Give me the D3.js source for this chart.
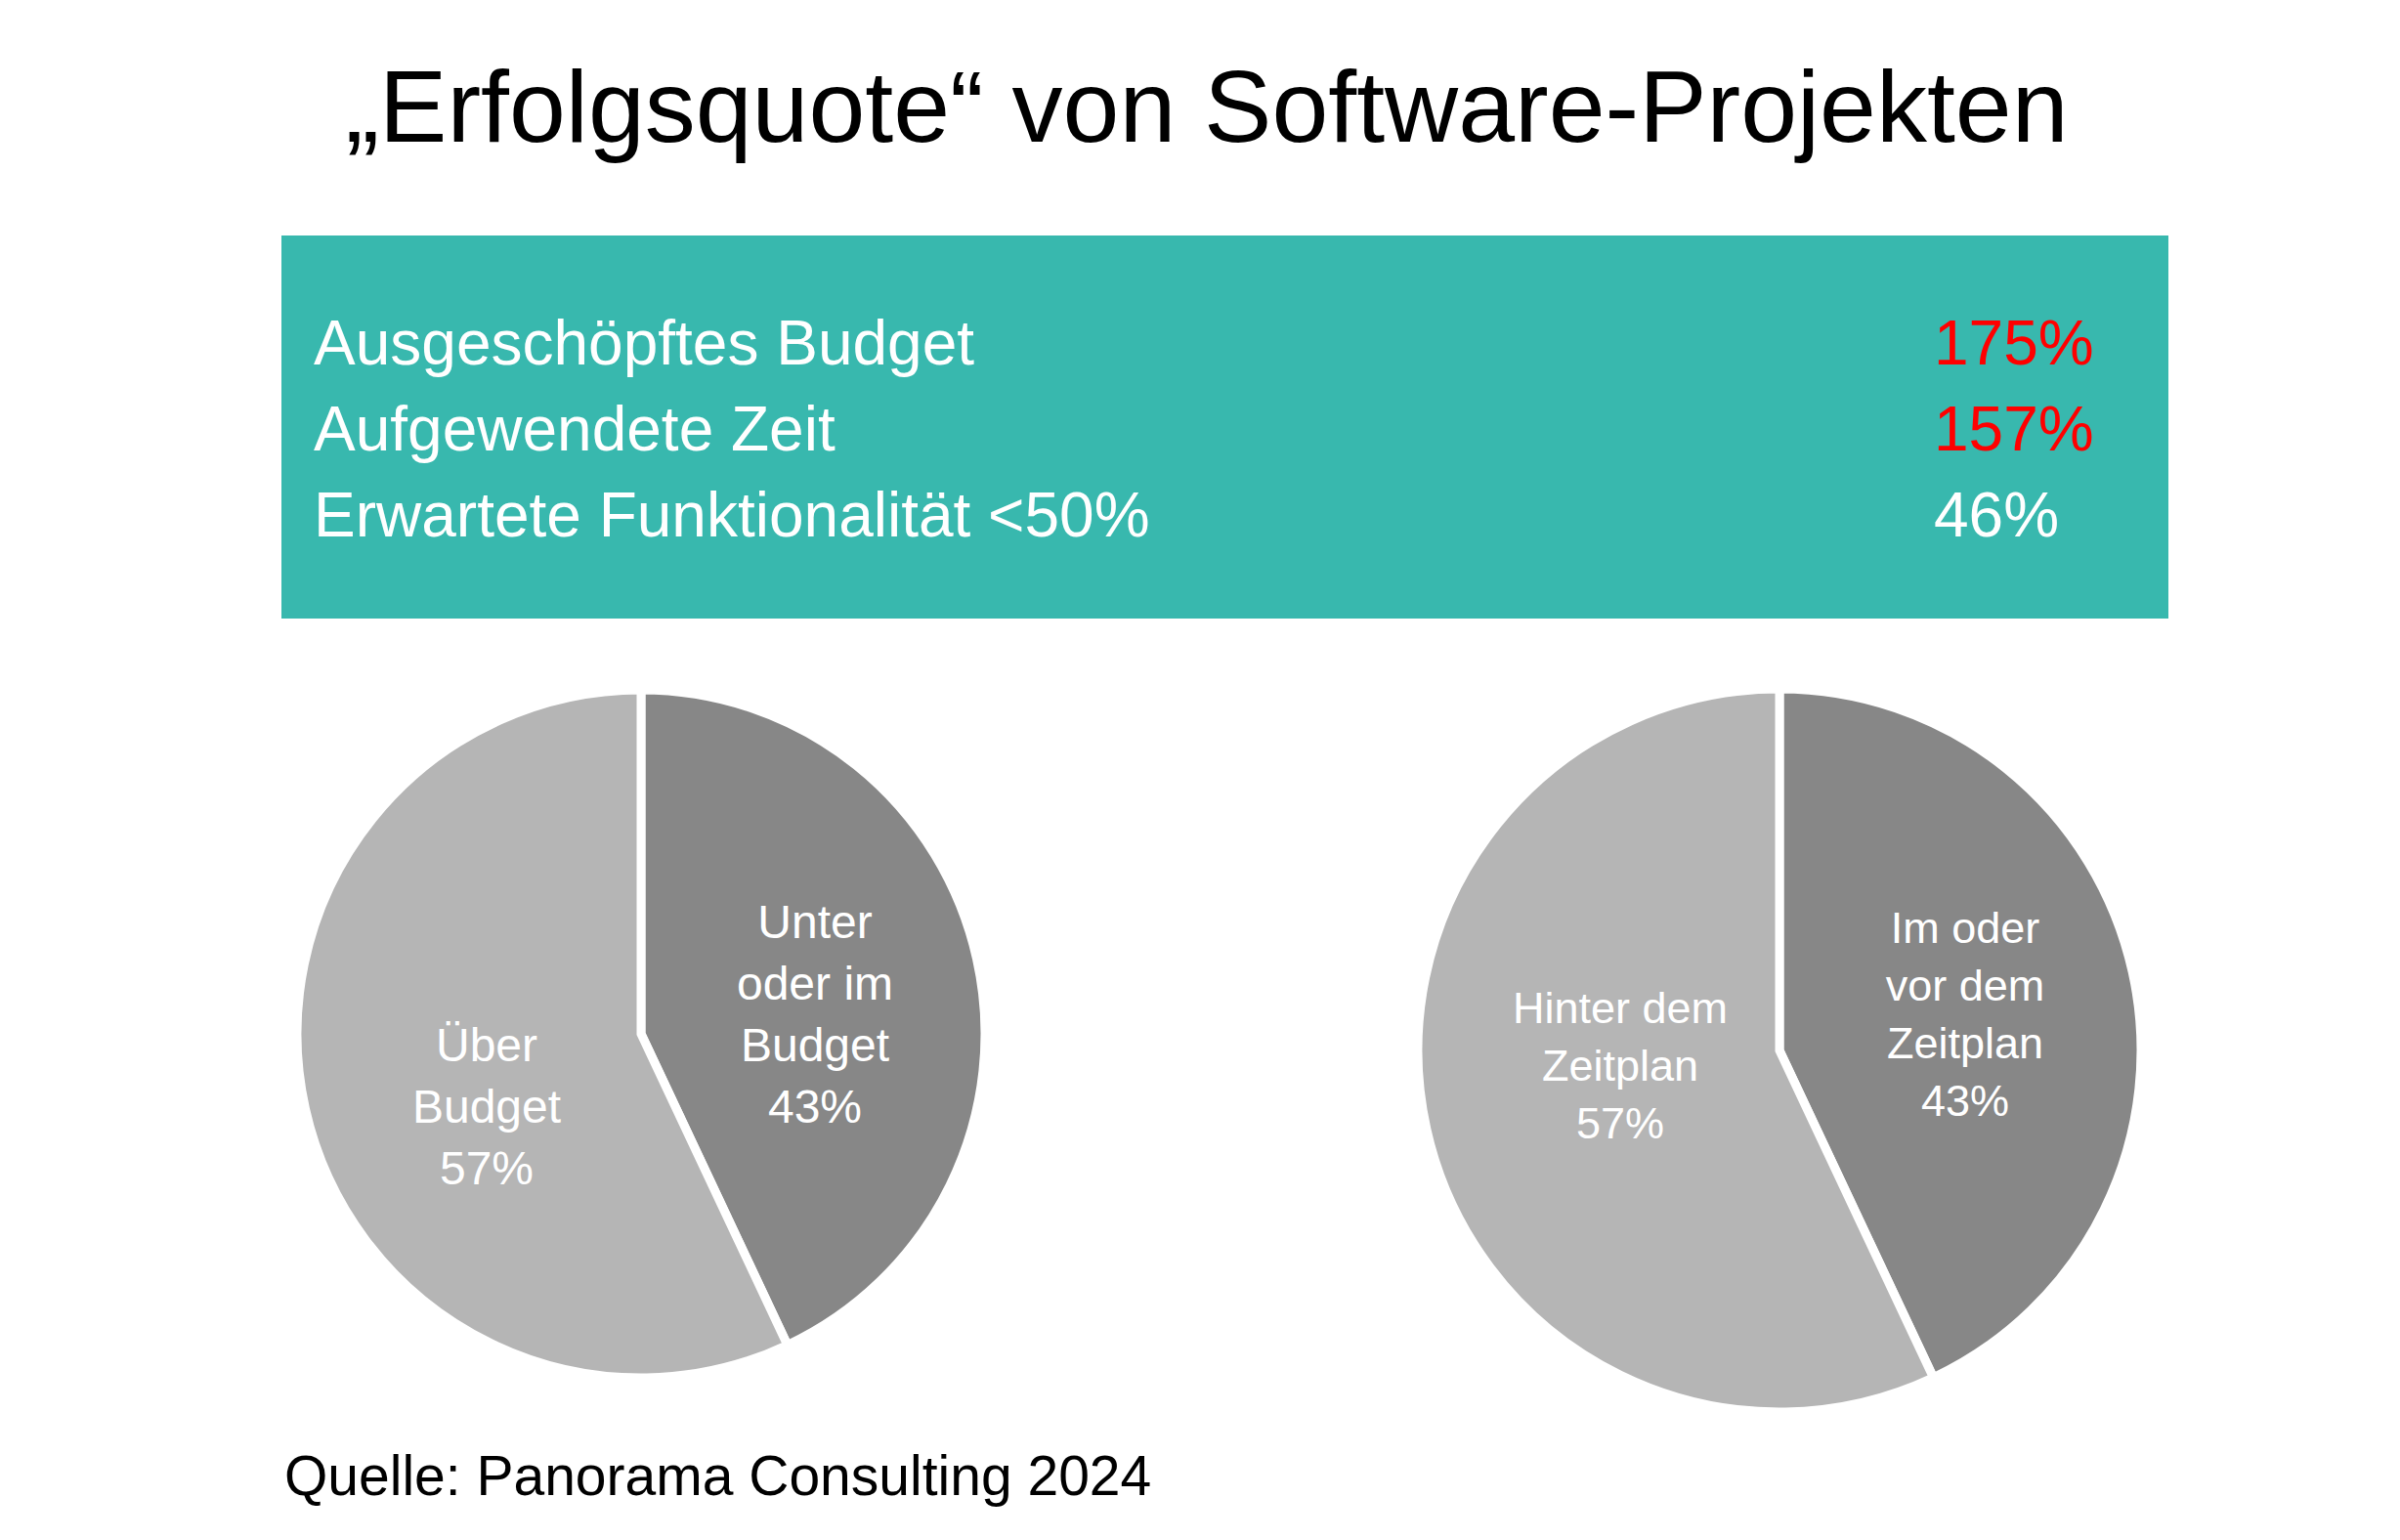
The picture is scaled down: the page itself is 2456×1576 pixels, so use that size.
<!DOCTYPE html>
<html><head><meta charset="utf-8">
<script src="https://cdn.jsdelivr.net/npm/d3@7"></script>
<style>body{margin:0;background:#fff}</style></head>
<body><svg id="c" width="2456" height="1576"></svg>
<script>
const title = "„Erfolgsquote“ von Software-Projekten";
const boxLabels = ["Ausgeschöpftes Budget","Aufgewendete Zeit","Erwartete Funktionalität <50%"];
const boxValues = ["175%","157%","46%"];
const boxColors = ["#ff0000","#ff0000","#ffffff"];
const pie1Values = [43,57];
const pie1Labels = [["Unter","oder im","Budget","43%"],["Über","Budget","57%"]];
const pie2Values = [43,57];
const pie2Labels = [["Im oder","vor dem","Zeitplan","43%"],["Hinter dem","Zeitplan","57%"]];
const sliceColors = ["#878787","#b5b5b5"];
const source = "Quelle: Panorama Consulting 2024";

const svg = d3.select("#c"), F="Liberation Sans, Arial, sans-serif";
svg.append("text").attr("x",1235).attr("y",145).attr("text-anchor","middle")
  .attr("font-family",F).attr("font-size",104).text(title);
svg.append("rect").attr("x",288).attr("y",241).attr("width",1931).attr("height",392).attr("fill","#38b8ae");
const y = d3.scalePoint().domain(d3.range(3)).range([373,549]);
boxLabels.forEach((t,i)=>{
  svg.append("text").attr("x",321).attr("y",y(i)).attr("font-family",F).attr("font-size",64).attr("fill","#fff").text(t);
  svg.append("text").attr("x",1979).attr("y",y(i)).attr("font-family",F).attr("font-size",64).attr("fill",boxColors[i]).text(boxValues[i]);
});
function pie(cx,cy,r,vals,labels,fs,lh,pos){
  const g = svg.append("g").attr("transform",`translate(${cx},${cy})`);
  const arcs = d3.pie().sort(null)(vals);
  g.selectAll("path").data(arcs).join("path").attr("d",d3.arc().innerRadius(0).outerRadius(r))
    .attr("fill",(d,i)=>sliceColors[i]).attr("stroke","#fff").attr("stroke-width",9);
  labels.forEach((ls,i)=>{
    const [px,py]=pos[i];
    ls.forEach((l,j)=>g.append("text").attr("x",px).attr("y",py+j*lh).attr("text-anchor","middle")
      .attr("font-family",F).attr("font-size",fs).attr("fill","#fff").text(l));
  });
}
pie(656,1058,352,pie1Values,pie1Labels,48,63,[[178,-98],[-158,28]]);
pie(1821,1075,370,pie2Values,pie2Labels,45,59,[[190,-110],[-163,-28]]);
svg.append("text").attr("x",291).attr("y",1530).attr("font-family",F).attr("font-size",57).text(source);
</script></body></html>
